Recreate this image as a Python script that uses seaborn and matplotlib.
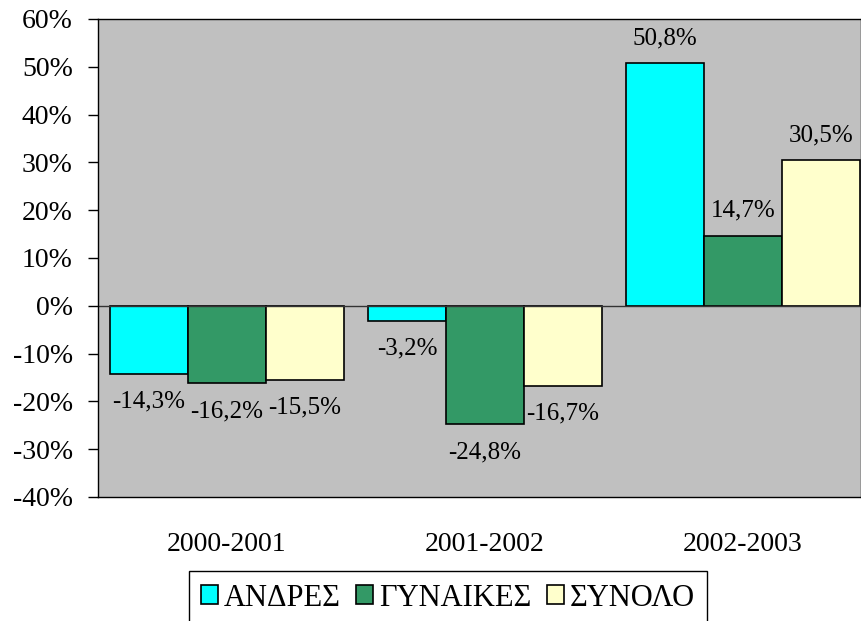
import matplotlib
matplotlib.use("Agg")
import matplotlib.pyplot as plt
from matplotlib.patches import Patch
import pandas as pd
import seaborn as sns

# data (percent change)
periods = ["2000-2001", "2001-2002", "2002-2003"]
series = ["ΑΝΔΡΕΣ", "ΓΥΝΑΙΚΕΣ", "ΣΥΝΟΛΟ"]
men = [-14.3, -3.2, 50.8]
women = [-16.2, -24.8, 14.7]
total = [-15.5, -16.7, 30.5]
y_ticks = [-40, -30, -20, -10, 0, 10, 20, 30, 40, 50, 60]
y_tick_labels = ["-40%", "-30%", "-20%", "-10%", "0%", "10%", "20%", "30%", "40%", "50%", "60%"]
colors = ["#00FFFF", "#339966", "#FFFFCC"]

df = pd.DataFrame({
    "period": periods * 3,
    "series": [series[0]] * 3 + [series[1]] * 3 + [series[2]] * 3,
    "value": men + women + total,
})

sns.set_style("ticks", {"axes.facecolor": "#C0C0C0", "axes.edgecolor": "black"})
plt.rcParams["font.family"] = ["Liberation Serif", "DejaVu Serif"]
plt.rcParams["text.color"] = "black"
plt.rcParams["xtick.color"] = "black"
plt.rcParams["ytick.color"] = "black"

fig = plt.figure(figsize=(8.61, 6.21), dpi=100)
ax = fig.add_axes([98 / 861, 1 - 497 / 621, 1 - 98 / 861, (497 - 19) / 621])

sns.barplot(data=df, x="period", y="value", hue="series", hue_order=series,
            palette=colors, saturation=1, width=0.907, gap=0,
            edgecolor="black", linewidth=1.2, legend=False, ax=ax)

ax.axhline(0, color="#333333", lw=1, zorder=1)

# value labels, above positive bars and below negative ones
for cont in ax.containers:
    for bar in cont:
        h = bar.get_height()
        txt = f"{h:.1f}%".replace(".", ",")
        x = bar.get_x() + bar.get_width() / 2
        end = bar.get_y() + h
        off = 18 if h >= 0 else -20
        ax.annotate(txt, (x, end), xytext=(0, off), textcoords="offset points",
                    ha="center", va="center", fontsize=18, color="black")

ax.set_ylim(-40, 60)
ax.set_xlim(-0.5, 2.457)
ax.set_yticks(y_ticks)
ax.set_yticklabels(y_tick_labels, fontsize=20)
ax.tick_params(axis="y", length=7.2, width=1, pad=11, direction="out", colors="black")
ax.tick_params(axis="x", length=0, pad=25, labelsize=20, colors="black")
ax.set_xlabel("")
ax.set_ylabel("")
for s in ax.spines.values():
    s.set_color("black")
    s.set_linewidth(1)

handles = [Patch(facecolor=c, edgecolor="black", linewidth=1.2) for c in colors]
fig.legend(handles, series, loc="center", bbox_to_anchor=(448 / 861, 1 - 598 / 621),
           ncol=3, fontsize=22, frameon=True, fancybox=False, framealpha=1,
           facecolor="white", edgecolor="black", handlelength=0.55, handleheight=0.55,
           handletextpad=0.2, columnspacing=0.5, borderpad=0.4,
           borderaxespad=0)

fig.savefig("out.png", dpi=100, facecolor="white")
